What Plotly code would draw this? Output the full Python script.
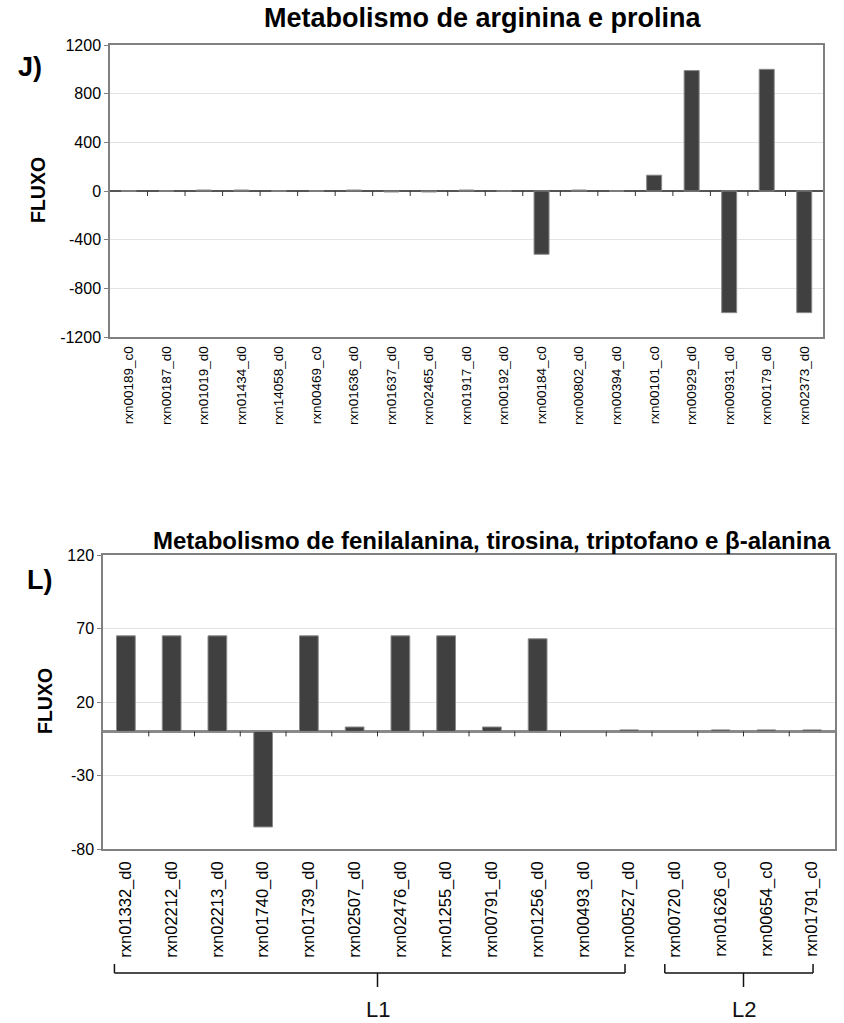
import plotly.graph_objects as go

# ---------------- data ----------------
cats_top = ["rxn00189_c0", "rxn00187_d0", "rxn01019_d0", "rxn01434_d0", "rxn14058_d0",
            "rxn00469_c0", "rxn01636_d0", "rxn01637_d0", "rxn02465_d0", "rxn01917_d0",
            "rxn00192_d0", "rxn00184_c0", "rxn00802_d0", "rxn00394_d0", "rxn00101_c0",
            "rxn00929_d0", "rxn00931_d0", "rxn00179_d0", "rxn02373_d0"]
vals_top = [0, 0, 8, 8, 0, 0, 8, -8, -8, 8, 0, -520, 8, 0, 130, 990, -1000, 1000, -1000]
yticks_top = [-1200, -800, -400, 0, 400, 800, 1200]

cats_bot = ["rxn01332_d0", "rxn02212_d0", "rxn02213_d0", "rxn01740_d0", "rxn01739_d0",
            "rxn02507_d0", "rxn02476_d0", "rxn01255_d0", "rxn00791_d0", "rxn01256_d0",
            "rxn00493_d0", "rxn00527_d0", "rxn00720_d0", "rxn01626_c0", "rxn00654_c0",
            "rxn01791_c0"]
vals_bot = [65, 65, 65, -65, 65, 3, 65, 65, 3, 63, 0, 1, 0, 1, 1, 1]
yticks_bot = [-80, -30, 20, 70, 120]

groups_bot = [("L1", "rxn01332_d0", "rxn00527_d0"), ("L2", "rxn00720_d0", "rxn01791_c0")]

title_top = "Metabolismo de arginina e prolina"
title_bot = "Metabolismo de fenilalanina, tirosina, triptofano e β-alanina"
ylabel = "FLUXO"
panel_top = "J)"
panel_bot = "L)"

# ---------------- layout helpers ----------------
W, H = 844, 1023
FONT = "Liberation Sans, Arial, sans-serif"
BAR = "#404040"


def px_x(p):
    return p / W


def px_y(p):
    return 1 - p / H


fig = go.Figure()
fig.add_trace(go.Bar(x=cats_top, y=vals_top, xaxis="x", yaxis="y",
                     marker=dict(color=BAR, line=dict(color="#8a8a8a", width=1)),
                     hoverinfo="x+y"))
fig.add_trace(go.Bar(x=cats_bot, y=vals_bot, xaxis="x2", yaxis="y2",
                     marker=dict(color=BAR, line=dict(color="#8a8a8a", width=1)),
                     hoverinfo="x+y"))

shapes = []
# tick marks at the zero line, between categories
for i in range(len(cats_top) - 1):
    shapes.append(dict(type="line", xref="x", yref="y", x0=i + 0.5, x1=i + 0.5,
                       ysizemode="pixel", yanchor=0, y0=0, y1=-5,
                       line=dict(color="#333333", width=1)))
for i in range(len(cats_bot) - 1):
    shapes.append(dict(type="line", xref="x2", yref="y2", x0=i + 0.5, x1=i + 0.5,
                       ysizemode="pixel", yanchor=0, y0=0, y1=-5,
                       line=dict(color="#333333", width=1)))

# group brackets under the lower chart
y_hook, y_line, y_prong = px_y(964), px_y(973), px_y(987)
annotations = []
for k, (name, a, b) in enumerate(groups_bot):
    i0, i1 = cats_bot.index(a), cats_bot.index(b)
    xl = i0 - 0.25 if k == 0 else i0 - 0.22
    xr = i1 - 0.09 if k == 0 else i1 + 0.02
    xm = (i0 + i1) / 2
    lc = dict(color="#111111", width=1.5)
    shapes.append(dict(type="line", xref="x2", yref="paper", x0=xl, x1=xl, y0=y_hook, y1=y_line, line=lc))
    shapes.append(dict(type="line", xref="x2", yref="paper", x0=xr, x1=xr, y0=y_hook, y1=y_line, line=lc))
    shapes.append(dict(type="line", xref="x2", yref="paper", x0=xl, x1=xr, y0=y_line, y1=y_line, line=lc))
    shapes.append(dict(type="line", xref="x2", yref="paper", x0=xm, x1=xm, y0=y_line, y1=y_prong, line=lc))
    annotations.append(dict(text=name, xref="x2", yref="paper", x=xm, y=px_y(1009),
                            xanchor="center", yanchor="middle", showarrow=False,
                            font=dict(family=FONT, size=22, color="#111111")))

annotations += [
    dict(text="<b>%s</b>" % title_top, xref="paper", yref="paper", x=px_x(483), y=px_y(18),
         xanchor="center", yanchor="middle", showarrow=False,
         font=dict(family=FONT, size=27, color="black")),
    dict(text="<b>%s</b>" % title_bot, xref="paper", yref="paper", x=px_x(492), y=px_y(540),
         xanchor="center", yanchor="middle", showarrow=False,
         font=dict(family=FONT, size=24, color="black")),
    dict(text="<b>%s</b>" % panel_top, xref="paper", yref="paper", x=px_x(30), y=px_y(67),
         xanchor="center", yanchor="middle", showarrow=False,
         font=dict(family=FONT, size=27, color="black")),
    dict(text="<b>%s</b>" % panel_bot, xref="paper", yref="paper", x=px_x(39), y=px_y(580),
         xanchor="center", yanchor="middle", showarrow=False,
         font=dict(family=FONT, size=27, color="black")),
    dict(text="<b>%s</b>" % ylabel, xref="paper", yref="paper", x=px_x(38), y=px_y(190),
         xanchor="center", yanchor="middle", showarrow=False, textangle=-90,
         font=dict(family=FONT, size=19.5, color="black")),
    dict(text="<b>%s</b>" % ylabel, xref="paper", yref="paper", x=px_x(45), y=px_y(701),
         xanchor="center", yanchor="middle", showarrow=False, textangle=-90,
         font=dict(family=FONT, size=19.5, color="black")),
]

xcommon = dict(type="category", showgrid=False, zeroline=False, showline=True,
               linecolor="#808080", linewidth=1.5, mirror=True, tickangle=-90,
               ticks="outside", tickcolor="rgba(0,0,0,0)", automargin=False)
ycommon = dict(showgrid=True, gridcolor="#e3e3e3", gridwidth=1, showline=True,
               linecolor="#808080", linewidth=1.5, mirror=True, ticks="outside",
               ticklen=4, tickcolor="#808080", zeroline=True, automargin=False)

fig.update_layout(
    width=W, height=H, margin=dict(l=0, r=0, t=0, b=0, pad=0, autoexpand=False),
    paper_bgcolor="white", plot_bgcolor="white", showlegend=False,
    bargap=0.6, font=dict(family=FONT, color="black"),
    xaxis=dict(xcommon, domain=[px_x(110), px_x(823)], anchor="y", ticklen=2,
               range=[-0.5, len(cats_top) - 0.5],
               tickfont=dict(family=FONT, size=13.5, color="black")),
    yaxis=dict(ycommon, domain=[px_y(337), px_y(45)], anchor="x",
               range=[yticks_top[0], yticks_top[-1]], tickvals=yticks_top,
               ticktext=[str(v) for v in yticks_top],
               zerolinecolor="#555555", zerolinewidth=1.5,
               tickfont=dict(family=FONT, size=16, color="black")),
    xaxis2=dict(xcommon, domain=[px_x(103), px_x(835)], anchor="y2", ticklen=4,
                range=[-0.5, len(cats_bot) - 0.5],
                tickfont=dict(family=FONT, size=16.5, color="black")),
    yaxis2=dict(ycommon, domain=[px_y(849), px_y(555)], anchor="x2",
                range=[yticks_bot[0], yticks_bot[-1]], tickvals=yticks_bot,
                ticktext=[str(v) for v in yticks_bot],
                zerolinecolor="#8a8a8a", zerolinewidth=2.5,
                tickfont=dict(family=FONT, size=16, color="black")),
    shapes=shapes, annotations=annotations,
)
fig.update_traces(width=0.4, selector=dict(xaxis="x"))
fig.update_traces(width=0.41, selector=dict(xaxis="x2"))

fig.write_html("out.html")
